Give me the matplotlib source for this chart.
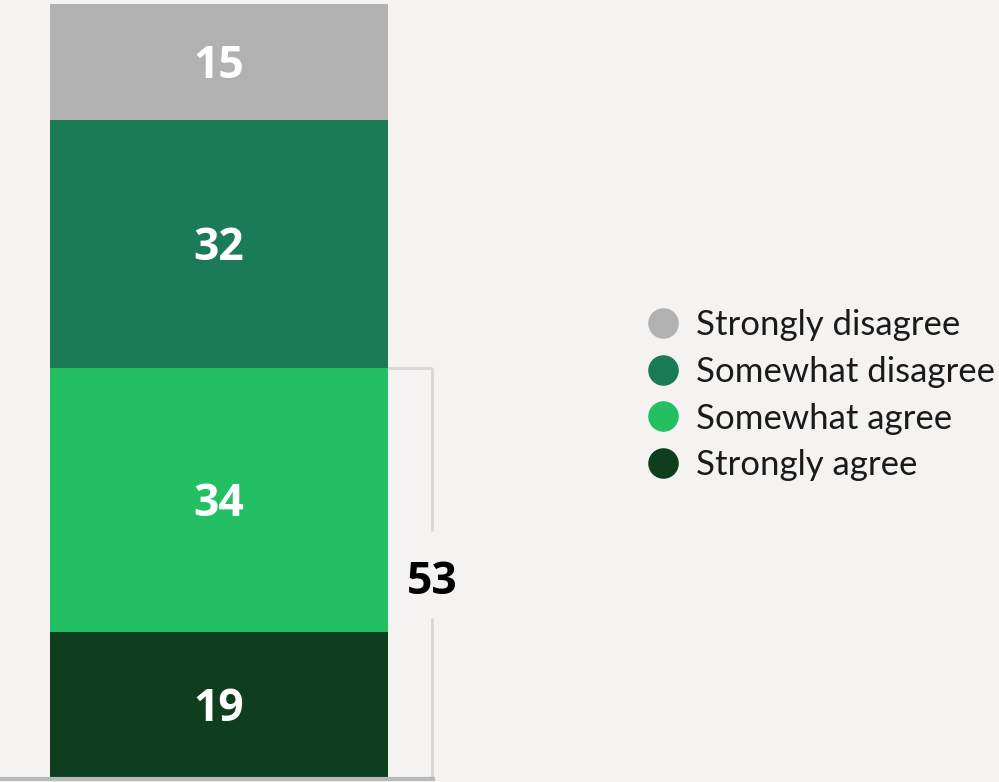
import matplotlib
matplotlib.use("Agg")
import matplotlib.pyplot as plt
from matplotlib.lines import Line2D

# Survey responses (percent), stacked from the bottom up
categories = ["Strongly agree", "Somewhat agree", "Somewhat disagree", "Strongly disagree"]
values = [19, 34, 32, 15]
colors = ["#0f3e1e", "#22c062", "#1a7b56", "#b1b1b1"]
legend_order = ["Strongly disagree", "Somewhat disagree", "Somewhat agree", "Strongly agree"]
agree_total = values[0] + values[1]

W, H = 999, 782
bg = "#f4f3f1"
fig = plt.figure(figsize=(W / 100, H / 100), dpi=100, facecolor=bg)
# axes: y=0 at 779 px from top, y=100 at 4 px
ax = fig.add_axes([0, (H - 779) / H, 1, 775 / H])
ax.set_facecolor(bg)
px = 338.0  # bar width in pixels
xc = 219.0  # bar centre in pixels
ax.set_xlim(-xc / px, (W - xc) / px)
ax.set_ylim(0, 100)
ax.axis("off")

label_font = dict(fontsize=32, fontweight="bold", family="Open Sans")
nudge = 0.55  # vertical optical centring of digits

bottom = 0
for cat, v, c in zip(categories, values, colors):
    ax.bar(0, v, width=1.0, bottom=bottom, color=c, linewidth=0, zorder=2)
    ax.text(0, bottom + v / 2 - nudge, str(v), ha="center", va="center", color="white",
            zorder=3, **label_font)
    bottom += v

# bracket around the agree share
bx = (432 - xc) / px
bar_right = 0.5
mid = agree_total / 2
bcol = "#d6d6d6"
ax.plot([bar_right, bx], [agree_total, agree_total], color=bcol, lw=2, solid_capstyle="butt", zorder=1, clip_on=False)
ax.plot([bx, bx], [agree_total, 32.0], color=bcol, lw=2, solid_capstyle="butt", zorder=1, clip_on=False)
ax.plot([bx, bx], [20.8, 0], color=bcol, lw=2, solid_capstyle="butt", zorder=1, clip_on=False)
ax.text(bx, mid - 0.55 - nudge, str(agree_total), ha="center", va="center", color="black",
        **label_font)

# baseline
ax.plot([-xc / px, (435 - xc) / px], [0, 0], color="#b9b9b9", lw=3, solid_capstyle="butt",
        zorder=4, clip_on=False)

# legend
color_map = dict(zip(categories, colors))
handles = [Line2D([], [], linestyle="none", marker="o", markersize=22,
                  markerfacecolor=color_map[n], markeredgewidth=0) for n in legend_order]
leg = fig.legend(handles, legend_order, loc="upper left",
                 bbox_to_anchor=(627 / W, 1 - 292 / H), frameon=False,
                 prop={"family": "Lato", "size": 25}, labelspacing=0.42,
                 handletextpad=0.38, handlelength=1.1, borderpad=0, labelcolor="#1a1a1a")

fig.savefig("out.png", dpi=100, facecolor=bg)
